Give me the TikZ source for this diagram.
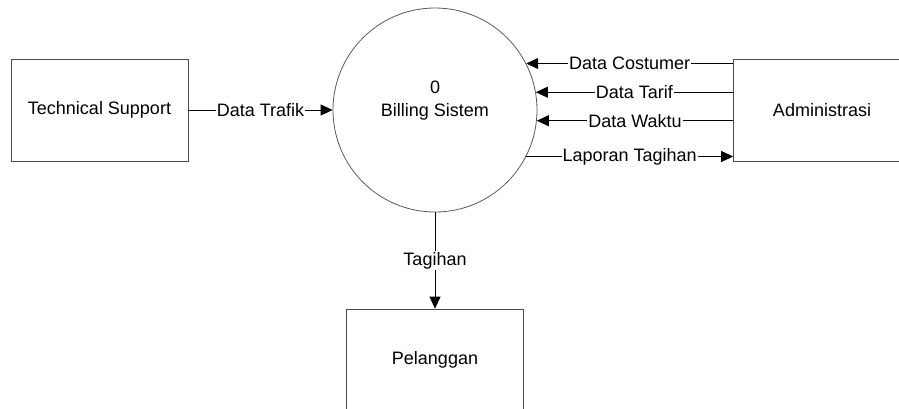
\documentclass[tikz,border=0pt]{standalone}
\usepackage{fontspec}
\setmainfont{Liberation Sans}
\usetikzlibrary{arrows.meta, positioning}

\begin{document}
\begin{tikzpicture}[x=1pt, y=-1pt, >={Triangle[length=12pt,width=11pt]},
        font=\fontsize{18}{23}\selectfont,
        entity/.style={draw=black!70, line width=0.8pt, minimum width=177pt, minimum height=102pt},
        process/.style={circle, draw=black!65, line width=0.8pt, minimum size=204pt, align=center},
        flow/.style={fill=white, inner sep=1pt}]
            \useasboundingbox (0, 0) rectangle (899, 408);
            \clip (0, 0) rectangle (899, 408);

            \node[entity] (ts) at (99.5, 110) {Technical Support};
            \node[process] (bs) at (435, 110) {0\\Billing Sistem\\\phantom{0}};
            \node[entity] (adm) at (822, 110.5) {Administrasi};
            \node[entity] (pel) at (435, 360) {Pelanggan};

            \draw[->, line width=0.8pt] (ts) -- node[flow] {Data Trafik} (bs);
            \draw[<-, line width=0.8pt] (bs.27) -- node[flow] {Data Costumer} (bs.27 -| adm.west);
            \draw[<-, line width=0.8pt] (bs.10) -- node[flow] {Data Tarif} (bs.10 -| adm.west);
            \draw[<-, line width=0.8pt] (bs.-6) -- node[flow] {Data Waktu} (bs.-6 -| adm.west);
            \draw[->, line width=0.8pt] (bs.-27) -- node[flow] {Laporan Tagihan} (bs.-27 -| adm.west);
            \draw[->, line width=0.8pt] (bs) -- node[flow] {Tagihan} (pel);
        \end{tikzpicture}
\end{document}
